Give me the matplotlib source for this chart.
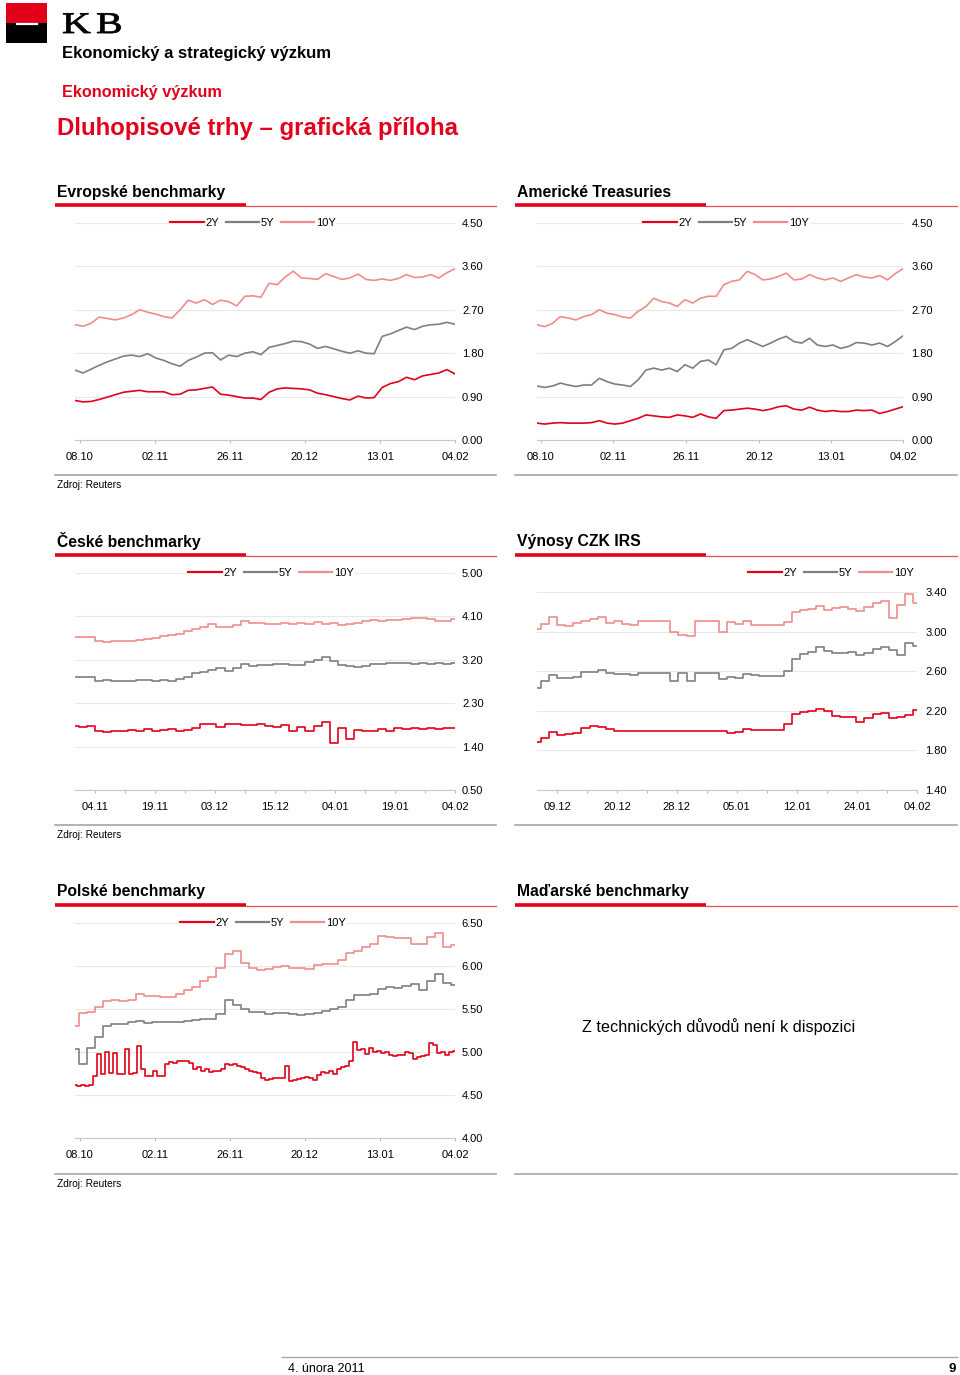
import numpy as np
import matplotlib
matplotlib.use('Agg')
import matplotlib.pyplot as plt
from matplotlib.patches import Rectangle, PathPatch
from matplotlib.textpath import TextPath
from matplotlib.font_manager import FontProperties
from matplotlib.transforms import Affine2D

plt.rcParams['font.family'] = ['Liberation Sans', 'DejaVu Sans']

W, H = 960, 1375
RED = '#e2001a'
GREY = '#7f7f7f'
PINK = '#f08c8c'
COLORS = [RED, GREY, PINK]
NAMES = ['2Y', '5Y', '10Y']

# ---------------- data (evenly spaced samples) ----------------
EU_2Y = [0.82, 0.79, 0.80, 0.84, 0.89, 0.94, 0.99, 1.01, 1.03, 1.00,
         1.00, 1.00, 0.94, 0.95, 1.03, 1.04, 1.07, 1.10, 0.95, 0.93,
         0.90, 0.87, 0.87, 0.84, 0.99, 1.06, 1.08, 1.07, 1.06, 1.04,
         0.97, 0.94, 0.90, 0.86, 0.83, 0.91, 0.87, 0.88, 1.09, 1.17,
         1.21, 1.30, 1.25, 1.33, 1.36, 1.39, 1.46, 1.37]
EU_5Y = [1.45, 1.39, 1.47, 1.55, 1.62, 1.68, 1.74, 1.76, 1.73, 1.79,
         1.70, 1.65, 1.58, 1.53, 1.65, 1.72, 1.80, 1.81, 1.66, 1.76,
         1.73, 1.80, 1.83, 1.77, 1.92, 1.96, 2.00, 2.05, 2.04, 1.99,
         1.90, 1.94, 1.89, 1.84, 1.80, 1.85, 1.80, 1.79, 2.15, 2.20,
         2.27, 2.34, 2.29, 2.36, 2.39, 2.40, 2.44, 2.40]
EU_10Y = [2.39, 2.36, 2.42, 2.55, 2.52, 2.49, 2.53, 2.60, 2.70, 2.65,
          2.61, 2.56, 2.53, 2.70, 2.90, 2.84, 2.91, 2.81, 2.90, 2.87,
          2.78, 2.98, 2.99, 2.96, 3.25, 3.22, 3.38, 3.50, 3.36, 3.35,
          3.33, 3.45, 3.39, 3.33, 3.36, 3.44, 3.33, 3.31, 3.34, 3.31,
          3.35, 3.43, 3.37, 3.38, 3.43, 3.36, 3.47, 3.55]

US_2Y = [0.35, 0.33, 0.35, 0.36, 0.35, 0.35, 0.35, 0.36, 0.40, 0.35,
         0.33, 0.35, 0.40, 0.45, 0.52, 0.50, 0.48, 0.47, 0.52, 0.50,
         0.47, 0.54, 0.48, 0.45, 0.61, 0.62, 0.64, 0.66, 0.64, 0.61,
         0.64, 0.69, 0.71, 0.64, 0.62, 0.68, 0.62, 0.59, 0.61, 0.59,
         0.59, 0.62, 0.61, 0.62, 0.55, 0.59, 0.64, 0.69]
US_5Y = [1.12, 1.09, 1.12, 1.18, 1.14, 1.11, 1.14, 1.14, 1.28, 1.21,
         1.16, 1.14, 1.11, 1.25, 1.45, 1.49, 1.45, 1.49, 1.42, 1.56,
         1.49, 1.63, 1.66, 1.56, 1.87, 1.90, 2.01, 2.08, 2.01, 1.94,
         2.01, 2.09, 2.15, 2.04, 2.01, 2.11, 1.97, 1.94, 1.97, 1.90,
         1.94, 2.02, 2.01, 1.97, 2.01, 1.94, 2.04, 2.16]
US_10Y = [2.39, 2.35, 2.42, 2.56, 2.53, 2.49, 2.56, 2.60, 2.70, 2.63,
          2.60, 2.55, 2.53, 2.67, 2.77, 2.94, 2.87, 2.84, 2.77, 2.91,
          2.84, 2.94, 2.98, 2.98, 3.22, 3.29, 3.32, 3.50, 3.43, 3.32,
          3.34, 3.39, 3.46, 3.32, 3.34, 3.43, 3.36, 3.32, 3.36, 3.29,
          3.36, 3.43, 3.38, 3.36, 3.41, 3.32, 3.45, 3.55]

CZ_2Y = [1.82, 1.80, 1.83, 1.72, 1.70, 1.73, 1.72, 1.75, 1.73, 1.76,
         1.73, 1.74, 1.76, 1.73, 1.74, 1.78, 1.86, 1.86, 1.80, 1.86,
         1.87, 1.85, 1.84, 1.86, 1.83, 1.80, 1.84, 1.72, 1.80, 1.73,
         1.82, 1.90, 1.48, 1.78, 1.56, 1.74, 1.72, 1.73, 1.76, 1.72,
         1.78, 1.77, 1.78, 1.76, 1.78, 1.77, 1.79, 1.78]
CZ_5Y = [2.85, 2.85, 2.85, 2.77, 2.78, 2.76, 2.76, 2.77, 2.78, 2.79,
         2.77, 2.78, 2.76, 2.80, 2.84, 2.93, 2.95, 2.99, 3.03, 2.97,
         3.02, 3.12, 3.08, 3.09, 3.10, 3.12, 3.11, 3.10, 3.09, 3.15,
         3.20, 3.25, 3.18, 3.10, 3.08, 3.05, 3.08, 3.11, 3.12, 3.13,
         3.13, 3.13, 3.12, 3.14, 3.12, 3.13, 3.12, 3.13]
CZ_10Y = [3.67, 3.67, 3.67, 3.58, 3.57, 3.59, 3.58, 3.58, 3.61, 3.63,
          3.66, 3.70, 3.72, 3.74, 3.79, 3.83, 3.88, 3.95, 3.89, 3.89,
          3.93, 4.00, 3.96, 3.96, 3.94, 3.95, 3.96, 3.95, 3.96, 3.95,
          3.98, 3.95, 3.96, 3.93, 3.95, 3.96, 4.00, 4.02, 4.01, 4.03,
          4.03, 4.04, 4.07, 4.06, 4.04, 4.01, 4.00, 4.04]

IRS_2Y = [1.88, 1.93, 1.99, 1.96, 1.97, 1.98, 2.03, 2.05, 2.04, 2.02,
          2.00, 2.00, 2.00, 2.00, 2.00, 2.00, 2.00, 2.00, 2.00, 2.00,
          2.00, 2.00, 2.00, 2.00, 1.98, 1.99, 2.02, 2.01, 2.01, 2.01,
          2.01, 2.07, 2.17, 2.19, 2.20, 2.22, 2.20, 2.15, 2.14, 2.14,
          2.09, 2.13, 2.17, 2.18, 2.13, 2.14, 2.16, 2.21]
IRS_5Y = [2.43, 2.50, 2.56, 2.53, 2.53, 2.54, 2.59, 2.59, 2.61, 2.58,
          2.57, 2.57, 2.56, 2.58, 2.58, 2.58, 2.58, 2.50, 2.58, 2.50,
          2.58, 2.58, 2.58, 2.52, 2.54, 2.53, 2.57, 2.56, 2.55, 2.55,
          2.55, 2.60, 2.72, 2.77, 2.79, 2.84, 2.80, 2.78, 2.78, 2.79,
          2.76, 2.78, 2.82, 2.84, 2.81, 2.76, 2.88, 2.85]
IRS_10Y = [3.03, 3.08, 3.15, 3.07, 3.06, 3.09, 3.11, 3.13, 3.15, 3.09,
           3.11, 3.08, 3.07, 3.11, 3.11, 3.11, 3.11, 3.00, 2.97, 2.96,
           3.11, 3.11, 3.11, 3.00, 3.10, 3.08, 3.11, 3.07, 3.07, 3.07,
           3.07, 3.10, 3.20, 3.22, 3.23, 3.26, 3.22, 3.24, 3.25, 3.23,
           3.21, 3.25, 3.29, 3.31, 3.14, 3.27, 3.38, 3.29]

# Polish 2Y is sampled twice as densely to keep its narrow spikes
PL_2Y = [4.62, 4.61, 4.62, 4.60, 4.62, 4.72, 4.98, 4.75, 5.00, 4.76,
         4.99, 4.74, 4.74, 5.04, 4.74, 4.76, 5.07, 4.80, 4.72, 4.72,
         4.78, 4.72, 4.72, 4.86, 4.88, 4.87, 4.89, 4.89, 4.89, 4.87,
         4.80, 4.82, 4.78, 4.80, 4.77, 4.78, 4.78, 4.80, 4.86, 4.85,
         4.86, 4.84, 4.82, 4.80, 4.78, 4.77, 4.76, 4.70, 4.68, 4.69,
         4.70, 4.70, 4.70, 4.84, 4.66, 4.68, 4.69, 4.70, 4.71, 4.70,
         4.67, 4.73, 4.77, 4.76, 4.78, 4.75, 4.80, 4.82, 4.84, 4.90,
         5.12, 5.02, 5.04, 4.98, 5.05, 5.00, 5.01, 4.99, 5.00, 4.97,
         4.95, 4.96, 4.96, 5.00, 4.99, 4.92, 4.94, 4.95, 4.96, 5.10,
         5.08, 4.99, 5.00, 4.96, 5.00, 5.01]
PL_5Y = [5.03, 4.86, 5.05, 5.17, 5.30, 5.33, 5.33, 5.35, 5.36, 5.34,
         5.35, 5.35, 5.35, 5.35, 5.36, 5.37, 5.38, 5.38, 5.44, 5.60,
         5.55, 5.50, 5.47, 5.46, 5.44, 5.45, 5.45, 5.44, 5.43, 5.44,
         5.45, 5.48, 5.50, 5.52, 5.60, 5.66, 5.66, 5.68, 5.73, 5.76,
         5.75, 5.77, 5.79, 5.72, 5.82, 5.91, 5.80, 5.78]
PL_10Y = [5.30, 5.45, 5.47, 5.52, 5.59, 5.61, 5.59, 5.61, 5.67, 5.65,
          5.65, 5.64, 5.64, 5.67, 5.72, 5.76, 5.82, 5.87, 5.98, 6.14,
          6.17, 6.03, 5.98, 5.95, 5.96, 5.99, 6.00, 5.98, 5.98, 5.97,
          6.01, 6.02, 6.02, 6.07, 6.15, 6.18, 6.22, 6.26, 6.35, 6.34,
          6.33, 6.33, 6.25, 6.25, 6.34, 6.38, 6.22, 6.24]

# tick labels and their positions (in units of the 48-sample index)
OCT_LABELS = ['08.10', '02.11', '26.11', '20.12', '13.01', '04.02']
OCT_POS = [0.6, 9.9, 19.2, 28.4, 37.7, 47]
US_POS = [0.5, 9.8, 19.1, 28.5, 37.8, 47]
CZ_LABELS = ['04.11', '19.11', '03.12', '15.12', '04.01', '19.01', '04.02']
IRS_LABELS = ['09.12', '20.12', '28.12', '05.01', '12.01', '24.01', '04.02']
WEEK_POS = [2.5, 9.9, 17.3, 24.7, 32.2, 39.6, 47]
WEEK_MINOR = [6.2, 13.6, 21.0, 28.4, 35.9, 43.3]

fig = plt.figure(figsize=(W / 100, H / 100), dpi=100)

# full-page layer in pixel coordinates
bg = fig.add_axes([0, 0, 1, 1])
bg.set_xlim(0, W)
bg.set_ylim(H, 0)
bg.axis('off')

# logo
bg.add_patch(Rectangle((6, 3), 41, 20, color=RED, lw=0))
bg.add_patch(Rectangle((6, 23), 41, 20, color='black', lw=0))
bg.plot([17, 37], [23.5, 23.5], color='white', lw=1.6)
serif = FontProperties(family='Liberation Serif')
for ch, x0 in [('K', 62), ('B', 96)]:
    tp = TextPath((0, 0), ch, size=30, prop=serif)
    tr = Affine2D().scale(1.33, -1.0).translate(x0, 33) + bg.transData
    bg.add_patch(PathPatch(tp, transform=tr, color='black', lw=0.6))

bg.text(62, 53, 'Ekonomický a strategický výzkum', fontsize=12, fontweight='bold', va='center')
bg.text(62, 92, 'Ekonomický výzkum', fontsize=11.7, fontweight='bold', color=RED, va='center')
bg.text(57, 128, 'Dluhopisové trhy – grafická příloha', fontsize=17.3, fontweight='bold',
        color=RED, va='center')

# panel frames: titles, red underlines, grey bottom rules
panels = [
    (55, 496, 192, 205, 475, 'Evropské benchmarky', True),
    (515, 957, 192, 205, 475, 'Americké Treasuries', False),
    (55, 496, 541, 555, 825, 'České benchmarky', True),
    (515, 957, 541, 555, 825, 'Výnosy CZK IRS', False),
    (55, 496, 891, 905, 1174, 'Polské benchmarky', True),
    (515, 957, 891, 905, 1174, 'Maďarské benchmarky', False),
]
for x0, x1, ty, uy, by, title, src in panels:
    bg.text(x0 + 2, ty, title, fontsize=11.3, fontweight='bold', va='center')
    bg.plot([x0, x0 + 191], [uy, uy], color=RED, lw=2.6, solid_capstyle='butt')
    bg.plot([x0 + 191, x1], [uy + 1, uy + 1], color='#e65050', lw=0.9)
    bg.plot([x0, x1], [by, by], color='#a6a6a6', lw=1.2)
    if src:
        bg.text(x0 + 2, by + 10, 'Zdroj: Reuters', fontsize=7.3, va='center')

bg.text(719, 1027, 'Z technických důvodů není k dispozici', fontsize=11.7, ha='center', va='center')

# footer
bg.plot([282, 957], [1357, 1357], color='#a6a6a6', lw=1.0)
bg.text(288, 1369, '4. února 2011', fontsize=9, va='center')
bg.text(956, 1369, '9', fontsize=9.5, fontweight='bold', ha='right', va='center')


def chart(l, t, r, b, series, ylim, yticks, labels, pos, legend_xy, minor=None,
          ypad=5, steps=False):
    ax = fig.add_axes([l / W, 1 - b / H, (r - l) / W, (b - t) / H])
    ax.patch.set_alpha(0)
    n = min(len(s) for s in series)
    style = 'steps-mid' if steps else 'default'
    for vals, c, name in zip(series, COLORS, NAMES):
        x = np.linspace(0, n - 1, len(vals))
        ax.plot(x, vals, color=c, lw=1.2, label=name, drawstyle=style)
    ax.set_xlim(0, n - 1)
    ax.set_ylim(*ylim)
    ax.set_yticks(yticks)
    ax.set_yticklabels([f'{v:.2f}' for v in yticks])
    ax.yaxis.tick_right()
    ax.tick_params(axis='y', length=0, pad=ypad, labelsize=8)
    ax.set_xticks(pos)
    ax.set_xticklabels(labels)
    if minor is not None:
        ax.set_xticks(minor, minor=True)
    ax.tick_params(axis='x', which='both', length=2.5, width=0.8, color='#bdbdbd',
                   labelsize=8, pad=6)
    ax.grid(axis='y', color='#e8e8e8', lw=0.8)
    ax.set_axisbelow(True)
    for s in ['top', 'left', 'right']:
        ax.spines[s].set_visible(False)
    ax.spines['bottom'].set_color('#c8c8c8')
    ax.spines['bottom'].set_linewidth(0.8)
    leg = ax.legend(loc='center', bbox_to_anchor=(legend_xy[0] / W, 1 - legend_xy[1] / H),
                    bbox_transform=fig.transFigure, ncol=3, fontsize=8, frameon=True,
                    handlelength=3.0, handletextpad=0.15, columnspacing=0.6,
                    borderpad=0.1, borderaxespad=0)
    leg.get_frame().set_facecolor('white')
    leg.get_frame().set_edgecolor('none')
    leg.get_frame().set_alpha(1)
    for line in leg.get_lines():
        line.set_linewidth(1.6)
    return ax


chart(75, 223, 455, 440, [EU_2Y, EU_5Y, EU_10Y], (0, 4.5),
      [0, 0.9, 1.8, 2.7, 3.6, 4.5], OCT_LABELS, OCT_POS, (253, 223), ypad=5)
chart(537, 223, 903, 440, [US_2Y, US_5Y, US_10Y], (0, 4.5),
      [0, 0.9, 1.8, 2.7, 3.6, 4.5], OCT_LABELS, US_POS, (726, 223), ypad=6)
chart(75, 573, 455, 790, [CZ_2Y, CZ_5Y, CZ_10Y], (0.5, 5.0),
      [0.5, 1.4, 2.3, 3.2, 4.1, 5.0], CZ_LABELS, WEEK_POS, (271, 573),
      minor=WEEK_MINOR, ypad=5, steps=True)
chart(537, 592, 917, 790, [IRS_2Y, IRS_5Y, IRS_10Y], (1.4, 3.4),
      [1.4, 1.8, 2.2, 2.6, 3.0, 3.4], IRS_LABELS, WEEK_POS, (831, 573),
      minor=WEEK_MINOR, ypad=6, steps=True)
chart(75, 923, 455, 1138, [PL_2Y, PL_5Y, PL_10Y], (4.0, 6.5),
      [4.0, 4.5, 5.0, 5.5, 6.0, 6.5], OCT_LABELS, OCT_POS, (263, 923),
      ypad=4.5, steps=True)

fig.savefig('out.png', dpi=100)
